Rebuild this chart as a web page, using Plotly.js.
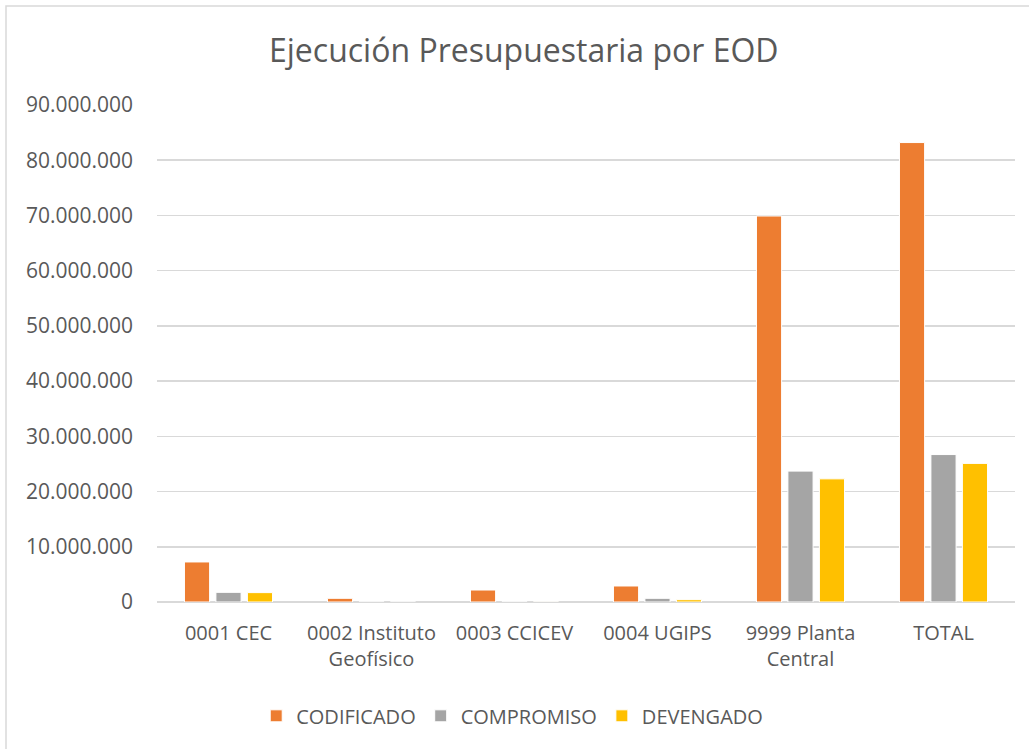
<!DOCTYPE html>
<html>
<head>
<meta charset="utf-8">
<script src="https://cdn.plot.ly/plotly-3.0.1.min.js"></script>
<style>html,body{margin:0;padding:0;background:#fff;}#chart{width:1029px;height:749px;}</style>
</head>
<body>
<div id="chart"></div>
<script>
const categories = ["0001 CEC", "0002 Instituto<br>Geofísico", "0003 CCICEV", "0004 UGIPS", "9999 Planta<br>Central", "TOTAL"];
const codificado = [7250000, 670000, 2170000, 2900000, 69900000, 83200000];
const compromiso = [1750000, 0, 20000, 670000, 23700000, 26700000];
const devengado = [1700000, 0, 15000, 420000, 22300000, 25100000];
const seriesNames = ["CODIFICADO", "COMPROMISO", "DEVENGADO"];
const yTicks = [0, 10000000, 20000000, 30000000, 40000000, 50000000, 60000000, 70000000, 80000000, 90000000];

const colors = ["#ED7D31", "#A5A5A5", "#FFC000"];
const values = [codificado, compromiso, devengado];
const FONT = "Open Sans, sans-serif";
const TXT = "#595959";

const data = values.map((v, i) => ({
  type: "bar",
  x: categories,
  y: v,
  name: seriesNames[i],
  marker: {color: colors[i], line: {color: "#ffffff", width: 1}},
  hoverinfo: "x+y+name"
}));

const layout = {
  width: 1029, height: 749,
  margin: {l: 157, r: 14, t: 105, b: 147},
  paper_bgcolor: "#ffffff",
  plot_bgcolor: "#ffffff",
  separators: ",.",
  font: {family: FONT, color: TXT, size: 21},
  title: {text: "Ejecución Presupuestaria por EOD", font: {family: FONT, size: 32, color: TXT}, x: 0.509, xanchor: "center", y: 0.932, yanchor: "middle"},
  barmode: "group",
  bargap: 0.34,
  bargroupgap: 0.2,
  xaxis: {
    type: "category",
    tickfont: {family: FONT, size: 20, color: TXT},
    showgrid: false, showline: false, ticks: "", zeroline: false,
    ticklabelstandoff: 17
  },
  yaxis: {
    range: [0, 90000000],
    tickvals: yTicks,
    tickformat: ",d",
    tickfont: {family: FONT, size: 21, color: TXT},
    showgrid: true, gridcolor: "#D9D9D9", gridwidth: 1.5,
    zeroline: true, zerolinecolor: "#D9D9D9", zerolinewidth: 1.5,
    showline: false, ticks: "",
    ticklabelstandoff: 23
  },
  legend: {
    orientation: "h", x: 0.414, xanchor: "center", y: -0.229, yanchor: "middle",
    font: {family: FONT, size: 20, color: TXT},
    itemwidth: 30, traceorder: "normal"
  },
  shapes: [{
    type: "rect", xref: "paper", yref: "paper",
    x0: (6 - 157) / 858, x1: (1045 - 157) / 858,
    y0: (602 - 760) / 497, y1: (602 - 6) / 497,
    line: {color: "#D9D9D9", width: 1.5}, fillcolor: "rgba(0,0,0,0)", layer: "below"
  }]
};

Plotly.newPlot("chart", data, layout, {displayModeBar: false, staticPlot: true});
</script>
</body>
</html>
